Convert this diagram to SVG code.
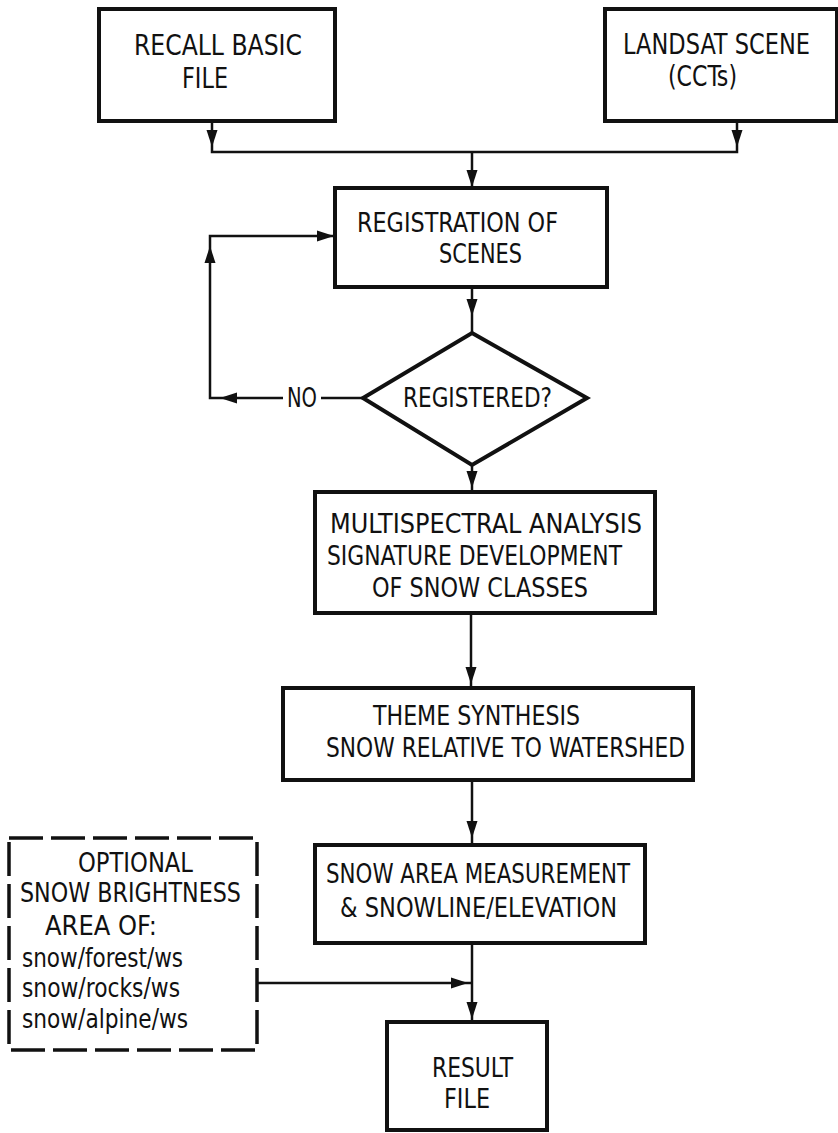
<svg xmlns="http://www.w3.org/2000/svg" xmlns:xlink="http://www.w3.org/1999/xlink" width="838" height="1133" viewBox="0 0 838 1133">
<style>
.box{fill:#fff;stroke:#111;stroke-width:4}
.dash{fill:#fff;stroke:#111;stroke-width:3.5;stroke-dasharray:34 8}
.ln{fill:none;stroke:#111;stroke-width:2.5}
.t{font-family:"Liberation Sans Narrow","DejaVu Sans Condensed","Liberation Sans",sans-serif;font-size:26px;fill:#111}
.big{font-size:28px}
</style>
<defs>
<path id="ah" d="M0,0 L-17,-5.5 L-17,5.5 Z" fill="#111"/>
</defs>
<rect width="838" height="1133" fill="#fff"/>
<g id="connectors">
<path class="ln" d="M212,121 V152 H737 V121"/>
<path class="ln" d="M472,152 V188"/>
<path class="ln" d="M283,398 H210 V236 H335"/>
<path class="ln" d="M321,398 H363"/>
<path class="ln" d="M472,287 V333"/>
<path class="ln" d="M472,465 V492"/>
<path class="ln" d="M471,613 V688"/>
<path class="ln" d="M472,780 V845"/>
<path class="ln" d="M472,943 V1022"/>
<path class="ln" d="M257,983 H472"/>
<use xlink:href="#ah" href="#ah" transform="translate(212,147) rotate(90)"/>
<use xlink:href="#ah" href="#ah" transform="translate(737,147) rotate(90)"/>
<use xlink:href="#ah" href="#ah" transform="translate(472,187) rotate(90)"/>
<use xlink:href="#ah" href="#ah" transform="translate(334,236)"/>
<use xlink:href="#ah" href="#ah" transform="translate(210,246) rotate(-90)"/>
<use xlink:href="#ah" href="#ah" transform="translate(472,316) rotate(90)"/>
<use xlink:href="#ah" href="#ah" transform="translate(220,398) rotate(180)"/>
<use xlink:href="#ah" href="#ah" transform="translate(472,488) rotate(90)"/>
<use xlink:href="#ah" href="#ah" transform="translate(471,684) rotate(90)"/>
<use xlink:href="#ah" href="#ah" transform="translate(472,838) rotate(90)"/>
<use xlink:href="#ah" href="#ah" transform="translate(468,983)"/>
<use xlink:href="#ah" href="#ah" transform="translate(472,1019) rotate(90)"/>
<text class="t" x="287" y="407" textLength="30" lengthAdjust="spacingAndGlyphs">NO</text>
</g>
<g id="recall">
<rect class="box" x="99" y="9" width="236" height="112"/>
<text class="t big" x="134" y="55" textLength="168" lengthAdjust="spacingAndGlyphs">RECALL BASIC</text>
<text class="t big" x="182" y="88" textLength="46" lengthAdjust="spacingAndGlyphs">FILE</text>
</g>
<g id="landsat">
<rect class="box" x="605" y="9" width="232" height="112"/>
<text class="t big" x="623" y="54" textLength="187" lengthAdjust="spacingAndGlyphs">LANDSAT SCENE</text>
<text class="t big" x="668" y="86" textLength="69" lengthAdjust="spacingAndGlyphs">(CCTs)</text>
</g>
<g id="registration">
<rect class="box" x="335" y="188" width="272" height="99"/>
<text class="t" x="357" y="232" textLength="201" lengthAdjust="spacingAndGlyphs">REGISTRATION OF</text>
<text class="t" x="439" y="263" textLength="83" lengthAdjust="spacingAndGlyphs">SCENES</text>
</g>
<g id="registered">
<polygon class="box" points="472,333 587,398 472,465 363,398"/>
<text class="t" x="403" y="407" textLength="149" lengthAdjust="spacingAndGlyphs">REGISTERED?</text>
</g>
<g id="multispectral">
<rect class="box" x="315" y="492" width="340" height="121"/>
<text class="t" x="330" y="533" textLength="312" lengthAdjust="spacingAndGlyphs">MULTISPECTRAL ANALYSIS</text>
<text class="t" x="327" y="565" textLength="295" lengthAdjust="spacingAndGlyphs">SIGNATURE DEVELOPMENT</text>
<text class="t" x="372" y="597" textLength="216" lengthAdjust="spacingAndGlyphs">OF SNOW CLASSES</text>
</g>
<g id="theme">
<rect class="box" x="283" y="688" width="410" height="92"/>
<text class="t" x="373" y="725" textLength="207" lengthAdjust="spacingAndGlyphs">THEME SYNTHESIS</text>
<text class="t" x="326" y="757" textLength="359" lengthAdjust="spacingAndGlyphs">SNOW RELATIVE TO WATERSHED</text>
</g>
<g id="snowarea">
<rect class="box" x="315" y="845" width="330" height="98"/>
<text class="t" x="326" y="883" textLength="304" lengthAdjust="spacingAndGlyphs">SNOW AREA MEASUREMENT</text>
<text class="t" x="340" y="917" textLength="277" lengthAdjust="spacingAndGlyphs">&amp; SNOWLINE/ELEVATION</text>
</g>
<g id="optional">
<rect class="dash" x="9" y="838" width="248" height="212"/>
<text class="t" x="78" y="872" textLength="115" lengthAdjust="spacingAndGlyphs">OPTIONAL</text>
<text class="t" x="20" y="902" textLength="221" lengthAdjust="spacingAndGlyphs">SNOW BRIGHTNESS</text>
<text class="t" x="45" y="935" textLength="112" lengthAdjust="spacingAndGlyphs">AREA OF:</text>
<text class="t" x="22" y="967" textLength="161" lengthAdjust="spacingAndGlyphs">snow/forest/ws</text>
<text class="t" x="22" y="997" textLength="158" lengthAdjust="spacingAndGlyphs">snow/rocks/ws</text>
<text class="t" x="22" y="1028" textLength="166" lengthAdjust="spacingAndGlyphs">snow/alpine/ws</text>
</g>
<g id="result">
<rect class="box" x="387" y="1022" width="160" height="108"/>
<text class="t" x="432" y="1077" textLength="81" lengthAdjust="spacingAndGlyphs">RESULT</text>
<text class="t" x="444" y="1108" textLength="46" lengthAdjust="spacingAndGlyphs">FILE</text>
</g>
</svg>
